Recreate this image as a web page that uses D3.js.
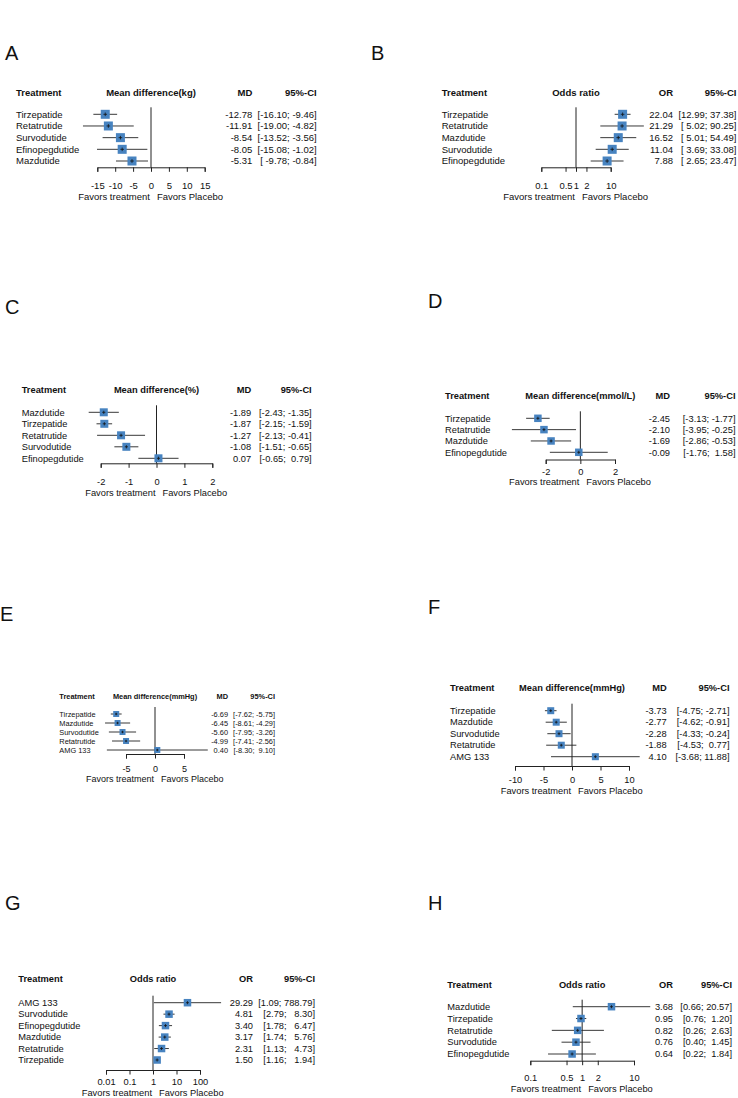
<!DOCTYPE html>
<html>
<head>
<meta charset="utf-8">
<script src="https://cdn.jsdelivr.net/npm/d3@7"></script>
<style>
  body { margin: 0; background: #fff; }
  svg text { font-family: "Liberation Sans", Arial, sans-serif; fill: #111; }
</style>
</head>
<body>
<div id="fig"></div>
<script>
// ---- data ----
var aNames = ["Tirzepatide", "Retatrutide", "Survodutide", "Efinopegdutide", "Mazdutide"];
var aEst = [-12.78, -11.91, -8.54, -8.05, -5.31];
var aLo = [-16.10, -19.00, -13.52, -15.08, -9.78];
var aHi = [-9.46, -4.82, -3.56, -1.02, -0.84];
var aTicks = [-15, -10, -5, 0, 5, 10, 15];

var bNames = ["Tirzepatide", "Retatrutide", "Mazdutide", "Survodutide", "Efinopegdutide"];
var bEst = [22.04, 21.29, 16.52, 11.04, 7.88];
var bLo = [12.99, 5.02, 5.01, 3.69, 2.65];
var bHi = [37.38, 90.25, 54.49, 33.08, 23.47];
var bTicks = [0.1, 0.5, 1, 2, 10];

var cNames = ["Mazdutide", "Tirzepatide", "Retatrutide", "Survodutide", "Efinopegdutide"];
var cEst = [-1.89, -1.87, -1.27, -1.08, 0.07];
var cLo = [-2.43, -2.15, -2.13, -1.51, -0.65];
var cHi = [-1.35, -1.59, -0.41, -0.65, 0.79];
var cTicks = [-2, -1, 0, 1, 2];

var dNames = ["Tirzepatide", "Retatrutide", "Mazdutide", "Efinopegdutide"];
var dEst = [-2.45, -2.10, -1.69, -0.09];
var dLo = [-3.13, -3.95, -2.86, -1.76];
var dHi = [-1.77, -0.25, -0.53, 1.58];
var dTicks = [-2, 0, 2];

var eNames = ["Tirzepatide", "Mazdutide", "Survodutide", "Retatrutide", "AMG 133"];
var eEst = [-6.69, -6.45, -5.60, -4.99, 0.40];
var eLo = [-7.62, -8.61, -7.95, -7.41, -8.30];
var eHi = [-5.75, -4.29, -3.26, -2.56, 9.10];
var eTicks = [-5, 0, 5];

var fNames = ["Tirzepatide", "Mazdutide", "Survodutide", "Retatrutide", "AMG 133"];
var fEst = [-3.73, -2.77, -2.28, -1.88, 4.10];
var fLo = [-4.75, -4.62, -4.33, -4.53, -3.68];
var fHi = [-2.71, -0.91, -0.24, 0.77, 11.88];
var fTicks = [-10, -5, 0, 5, 10];

var gNames = ["AMG 133", "Survodutide", "Efinopegdutide", "Mazdutide", "Retatrutide", "Tirzepatide"];
var gEst = [29.29, 4.81, 3.40, 3.17, 2.31, 1.50];
var gLo = [1.09, 2.79, 1.78, 1.74, 1.13, 1.16];
var gHi = [788.79, 8.30, 6.47, 5.76, 4.73, 1.94];
var gTicks = [0.01, 0.1, 1, 10, 100];

var hNames = ["Mazdutide", "Tirzepatide", "Retatrutide", "Survodutide", "Efinopegdutide"];
var hEst = [3.68, 0.95, 0.82, 0.76, 0.64];
var hLo = [0.66, 0.76, 0.26, 0.40, 0.22];
var hHi = [20.57, 1.20, 2.63, 1.45, 1.84];
var hTicks = [0.1, 0.5, 1, 2, 10];

// ---- layout per panel ----
var panels = [
  { tag: "A", tagX: 5, tagY: 60, names: aNames, est: aEst, lo: aLo, hi: aHi, ticks: aTicks, log: false,
    effLab: "Mean difference(kg)", estLab: "MD", x0: 97.3, x1: 204.7, labX: 16, estX: 252.3, ciX: 316.7,
    headY: 92.3, row0: 114.3, row1: 161, axisY: 167.3, tickY: 186, favY: 196.7, fs: 9.5, sq: 9 },
  { tag: "B", tagX: 371, tagY: 60, names: bNames, est: bEst, lo: bLo, hi: bHi, ticks: bTicks, log: true,
    effLab: "Odds ratio", estLab: "OR", x0: 541.3, x1: 610.7, labX: 441.7, estX: 673, ciX: 736.5,
    headY: 92.3, row0: 114.3, row1: 161, axisY: 167.3, tickY: 186, favY: 196.7, fs: 9.5, sq: 9 },
  { tag: "C", tagX: 5, tagY: 314, names: cNames, est: cEst, lo: cLo, hi: cHi, ticks: cTicks, log: false,
    effLab: "Mean difference(%)", estLab: "MD", x0: 100.7, x1: 212.3, labX: 21.7, estX: 251.2, ciX: 311.7,
    headY: 390, row0: 412.3, row1: 458.3, axisY: 463.3, tickY: 481.5, favY: 492.5, fs: 9.3, sq: 8 },
  { tag: "D", tagX: 428, tagY: 308, names: dNames, est: dEst, lo: dLo, hi: dHi, ticks: dTicks, log: false,
    effLab: "Mean difference(mmol/L)", estLab: "MD", x0: 545.7, x1: 615, labX: 445, estX: 670, ciX: 735.5,
    headY: 395.7, row0: 418.3, row1: 452.3, axisY: 459.5, tickY: 471.5, favY: 482, fs: 9.3, sq: 7.5 },
  { tag: "E", tagX: 0, tagY: 621, names: eNames, est: eEst, lo: eLo, hi: eHi, ticks: eTicks, log: false,
    effLab: "Mean difference(mmHg)", estLab: "MD", x0: 126, x1: 184, labX: 59.3, estX: 228, ciX: 275,
    headY: 696, row0: 714, row1: 750, axisY: 754, tickY: 769, favY: 779.3, fs: 7.4, afs: 9, sq: 6 },
  { tag: "F", tagX: 428, tagY: 614, names: fNames, est: fEst, lo: fLo, hi: fHi, ticks: fTicks, log: false,
    effLab: "Mean difference(mmHg)", estLab: "MD", x0: 515, x1: 629, labX: 450, estX: 666.7, ciX: 729.5,
    headY: 687.3, row0: 710.7, row1: 756.7, axisY: 766, tickY: 780, favY: 790.7, fs: 9.3, sq: 7 },
  { tag: "G", tagX: 5, tagY: 910, names: gNames, est: gEst, lo: gLo, hi: gHi, ticks: gTicks, log: true,
    effLab: "Odds ratio", estLab: "OR", x0: 106, x1: 200, labX: 18.3, estX: 253, ciX: 315,
    headY: 978.3, row0: 1002.7, row1: 1060, axisY: 1070, tickY: 1081.7, favY: 1092.3, fs: 9.3, sq: 7.5 },
  { tag: "H", tagX: 428, tagY: 910, names: hNames, est: hEst, lo: hLo, hi: hHi, ticks: hTicks, log: true,
    effLab: "Odds ratio", estLab: "OR", x0: 530.3, x1: 634, labX: 447.3, estX: 673, ciX: 732,
    headY: 985, row0: 1006.7, row1: 1054, axisY: 1060.7, tickY: 1077.3, favY: 1088.3, fs: 9.3, sq: 7.5 }
];

var svg = d3.select("#fig")
    .append("svg")
    .attr("width", 738)
    .attr("height", 1098);

svg.append("rect").attr("width", 738).attr("height", 1098).attr("fill", "#fff");

function padCol(vals) {
    var s = vals.map(v => v.toFixed(2));
    var n = d3.max(s, t => t.length);
    return s.map(t => t.padStart(n, " "));
}

function drawForest(p) {
    var g = svg.append("g");
    var afs = p.afs || p.fs;
    var tickLen = 4.5;

    var x = (p.log ? d3.scaleLog() : d3.scaleLinear())
        .domain([p.ticks[0], p.ticks[p.ticks.length - 1]])
        .range([p.x0, p.x1]);
    var ref = p.log ? 1 : 0;

    var y = d3.scalePoint()
        .domain(p.names)
        .range([p.row0, p.row1]);

    // panel letter
    g.append("text")
        .attr("x", p.tagX)
        .attr("y", p.tagY)
        .style("font-size", "20px")
        .text(p.tag);

    // column headers
    var head = g.append("g")
        .style("font-size", p.fs + "px")
        .style("font-weight", "bold");
    head.append("text").attr("x", p.labX).attr("y", p.headY).attr("dy", "0.35em").text("Treatment");
    head.append("text").attr("x", (p.x0 + p.x1) / 2).attr("y", p.headY).attr("dy", "0.35em")
        .attr("text-anchor", "middle").text(p.effLab);
    head.append("text").attr("x", p.estX).attr("y", p.headY).attr("dy", "0.35em")
        .attr("text-anchor", "end").text(p.estLab);
    head.append("text").attr("x", p.ciX).attr("y", p.headY).attr("dy", "0.35em")
        .attr("text-anchor", "end").text("95%-CI");

    var rows = p.names.map((d, i) => ({ name: d, est: p.est[i], lo: p.lo[i], hi: p.hi[i] }));
    var loS = padCol(p.lo), hiS = padCol(p.hi);

    // row labels and numbers
    var txt = g.append("g").style("font-size", p.fs + "px");
    txt.selectAll(".lab").data(rows).enter().append("text")
        .attr("x", p.labX).attr("y", d => y(d.name)).attr("dy", "0.35em")
        .text(d => d.name);
    txt.selectAll(".est").data(rows).enter().append("text")
        .attr("x", p.estX).attr("y", d => y(d.name)).attr("dy", "0.35em")
        .attr("text-anchor", "end")
        .text(d => d.est.toFixed(2));
    txt.selectAll(".ci").data(rows).enter().append("text")
        .attr("x", p.ciX).attr("y", d => y(d.name)).attr("dy", "0.35em")
        .attr("text-anchor", "end")
        .attr("xml:space", "preserve")
        .style("white-space", "pre")
        .text((d, i) => "[" + loS[i] + "; " + hiS[i] + "]");

    // reference line
    g.append("line")
        .attr("x1", x(ref)).attr("x2", x(ref))
        .attr("y1", p.row0 - 7).attr("y2", p.axisY)
        .attr("stroke", "#222").attr("stroke-width", 1);

    // confidence intervals
    g.selectAll(".cil").data(rows).enter().append("line")
        .attr("x1", d => x(d.lo)).attr("x2", d => x(d.hi))
        .attr("y1", d => y(d.name)).attr("y2", d => y(d.name))
        .attr("stroke", "#222").attr("stroke-width", 0.9);

    // squares
    g.selectAll(".sq").data(rows).enter().append("rect")
        .attr("x", d => x(d.est) - p.sq / 2)
        .attr("y", d => y(d.name) - p.sq / 2)
        .attr("width", p.sq).attr("height", p.sq)
        .attr("fill", "#4783c0");

    // tiny centre cross
    g.selectAll(".cx").data(rows).enter().append("path")
        .attr("d", d => {
            var cx = x(d.est), cy = y(d.name), h = p.sq * 0.2;
            return "M" + (cx - h) + "," + cy + "H" + (cx + h) + "M" + cx + "," + (cy - h) + "V" + (cy + h);
        })
        .attr("stroke", "#111").attr("stroke-width", 0.8);

    // axis
    var pad = (p.tickY - p.axisY) - tickLen - 0.352 * afs;
    var ax = g.append("g")
        .attr("transform", "translate(0," + p.axisY + ")")
        .call(d3.axisBottom(x)
            .tickValues(p.ticks)
            .tickSize(tickLen)
            .tickSizeOuter(tickLen)
            .tickPadding(pad)
            .tickFormat(d => String(d)));
    ax.attr("font-family", null).attr("font-size", null);
    ax.selectAll("text").style("font-size", afs + "px").attr("fill", "#111");
    ax.selectAll("path, line").attr("stroke", "#222");

    // favours labels
    g.append("text")
        .attr("x", x(ref) - 1).attr("y", p.favY).attr("dy", "0.35em")
        .attr("text-anchor", "end")
        .style("font-size", afs + "px")
        .text("Favors treatment");
    g.append("text")
        .attr("x", x(ref) + 6).attr("y", p.favY).attr("dy", "0.35em")
        .style("font-size", afs + "px")
        .text("Favors Placebo");
}

panels.forEach(drawForest);
</script>
</body>
</html>
